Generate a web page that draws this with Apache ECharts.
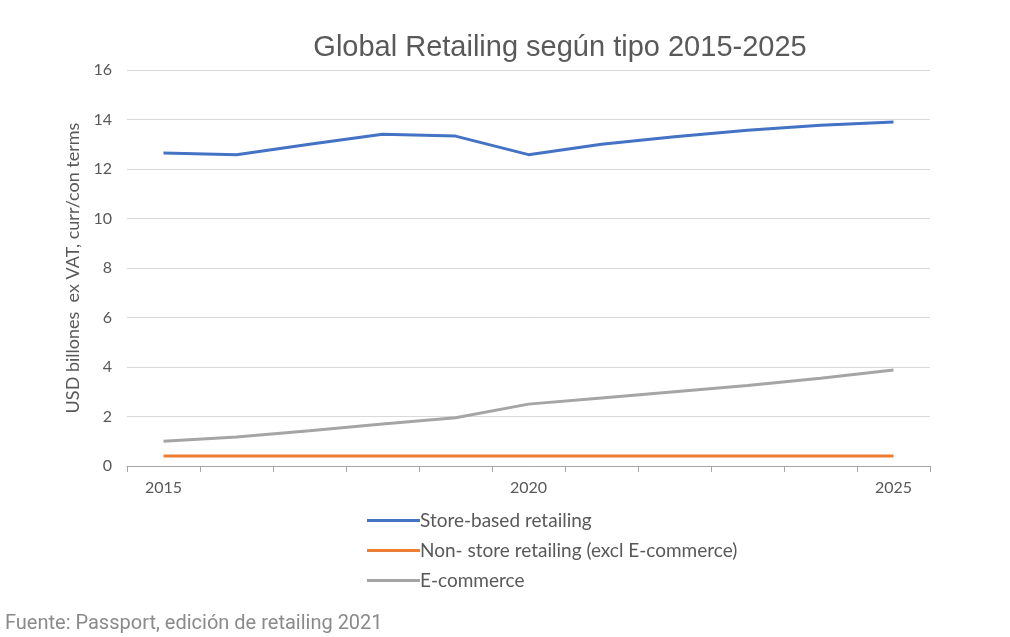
<!DOCTYPE html>
<html>
<head>
<meta charset="utf-8">
<script src="https://cdn.jsdelivr.net/npm/echarts@6/dist/echarts.min.js"></script>
<style>html,body{margin:0;padding:0;background:#fff}#c{width:1010px;height:637px}</style>
</head>
<body>
<div id="c"></div>
<script>
var years = ['2015','2016','2017','2018','2019','2020','2021','2022','2023','2024','2025'];
var storeBased = [12.65, 12.58, 13.0, 13.4, 13.33, 12.58, 13.0, 13.3, 13.57, 13.77, 13.9];
var nonStore = [0.4, 0.4, 0.4, 0.4, 0.4, 0.4, 0.4, 0.4, 0.4, 0.4, 0.4];
var eCommerce = [1.0, 1.17, 1.42, 1.7, 1.95, 2.5, 2.75, 3.0, 3.25, 3.55, 3.88];
var shownYears = ['2015','2020','2025'];

var chart = echarts.init(document.getElementById('c'));
chart.setOption({
  backgroundColor: '#fff',
  animation: false,
  title: [{
    text: 'Global Retailing según tipo 2015-2025',
    left: 560, top: 33, textAlign: 'center', padding: 0,
    textStyle: {fontFamily: 'Liberation Sans', fontSize: 29, fontWeight: 'normal', color: '#595959'}
  }, {
    text: 'Fuente: Passport, edición de retailing 2021',
    left: 5, top: 614, padding: 0,
    textStyle: {fontFamily: 'Roboto', fontSize: 20, fontWeight: 'normal', color: '#8a8a8a'}
  }],
  legend: {
    orient: 'vertical', left: 367, top: 511, itemGap: 11, padding: 0,
    itemWidth: 53, itemHeight: 3, icon: 'rect',
    textStyle: {fontFamily: 'Lato', fontSize: 19, color: '#595959', padding: [0,0,0,-5]},
    data: ['Store-based retailing', 'Non- store retailing (excl E-commerce)', 'E-commerce']
  },
  grid: {left: 127, right: 80, top: 70, bottom: 171},
  xAxis: {
    type: 'category', data: years, boundaryGap: true,
    axisLine: {lineStyle: {color: '#a6a6a6', width: 1}},
    axisTick: {show: true, length: 6, interval: 0, lineStyle: {color: '#a6a6a6'}},
    axisLabel: {
      interval: function (i, v) { return shownYears.indexOf(v) >= 0; },
      fontFamily: 'Lato', fontSize: 16, color: '#595959', margin: 14
    }
  },
  yAxis: {
    type: 'value', min: 0, max: 16, interval: 2,
    name: 'USD billones  ex VAT, curr/con terms', nameLocation: 'middle', nameGap: 42,
    nameTextStyle: {fontFamily: 'Lato', fontSize: 18, color: '#595959'},
    axisLine: {show: false}, axisTick: {show: false},
    axisLabel: {fontFamily: 'Lato', fontSize: 16, color: '#595959', margin: 15},
    splitLine: {lineStyle: {color: '#d9d9d9', width: 1}}
  },
  series: [{
    name: 'Store-based retailing', type: 'line', data: storeBased,
    symbol: 'none', lineStyle: {color: '#4472C4', width: 3}, itemStyle: {color: '#4472C4'}
  }, {
    name: 'Non- store retailing (excl E-commerce)', type: 'line', data: nonStore,
    symbol: 'none', lineStyle: {color: '#ED7D31', width: 3}, itemStyle: {color: '#ED7D31'}
  }, {
    name: 'E-commerce', type: 'line', data: eCommerce,
    symbol: 'none', lineStyle: {color: '#A5A5A5', width: 3}, itemStyle: {color: '#A5A5A5'}
  }]
});
</script>
</body>
</html>
